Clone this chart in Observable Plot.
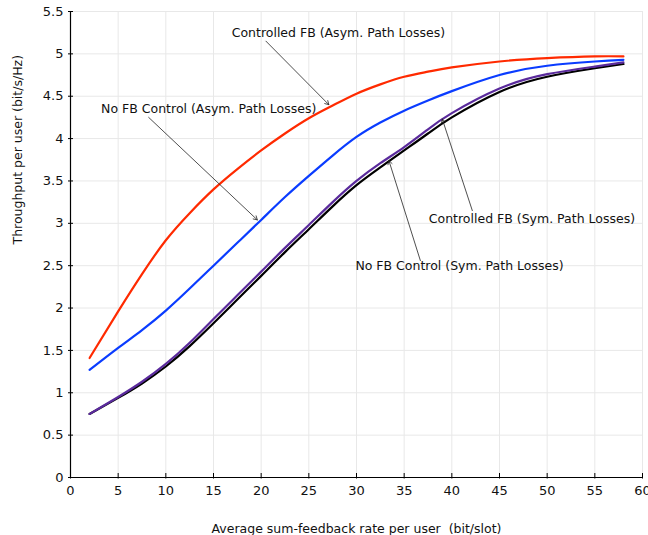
<!DOCTYPE html>
<html>
<head>
<meta charset="utf-8">
<script src="https://cdn.jsdelivr.net/npm/d3@7"></script>
<script src="https://cdn.jsdelivr.net/npm/@observablehq/plot@0.6"></script>
<style>
  html, body { margin: 0; padding: 0; background: #fff; }
  #chart { width: 648px; height: 535px; }
  #chart svg { overflow: visible; }
</style>
</head>
<body>
<div id="chart"></div>
<script>
// Feedback rate (bit/slot)
const xs = [2, 5, 7.5, 10, 12.5, 15, 17.5, 20, 22.5, 25, 27.5, 30, 32.5, 35, 37.5, 40, 45, 50, 55, 58];
// Throughput per user (bit/s/Hz)
const ctrlAsym   = [1.41, 1.96, 2.40, 2.80, 3.12, 3.40, 3.64, 3.86, 4.06, 4.24, 4.39, 4.53, 4.64, 4.73, 4.79, 4.84, 4.91, 4.95, 4.97, 4.97];
const noCtrlAsym = [1.27, 1.53, 1.74, 1.97, 2.23, 2.50, 2.77, 3.04, 3.31, 3.56, 3.80, 4.02, 4.19, 4.33, 4.45, 4.56, 4.75, 4.86, 4.91, 4.93];
const ctrlSym    = [0.75, 0.95, 1.13, 1.34, 1.59, 1.87, 2.15, 2.43, 2.71, 2.98, 3.25, 3.50, 3.71, 3.90, 4.11, 4.30, 4.59, 4.76, 4.85, 4.90];
const noCtrlSym  = [0.75, 0.94, 1.11, 1.31, 1.55, 1.82, 2.10, 2.38, 2.66, 2.93, 3.20, 3.45, 3.66, 3.86, 4.06, 4.25, 4.55, 4.73, 4.83, 4.88];

const xTicks = [0, 5, 10, 15, 20, 25, 30, 35, 40, 45, 50, 55, 60];
const yTicks = [0, 0.5, 1, 1.5, 2, 2.5, 3, 3.5, 4, 4.5, 5, 5.5];
const yTickLabels = ["0", "0.5", "1", "1.5", "2", "2.5", "3", "3.5", "4", "4.5", "5", "5.5"];

// Annotations: label text, label position, arrow tail and tip (data units)
const annLabels = ["Controlled FB (Asym. Path Losses)", "No FB Control (Asym. Path Losses)", "Controlled FB (Sym. Path Losses)", "No FB Control (Sym. Path Losses)"];
const annX  = [28.1, 14.5, 48.4, 40.8];
const annY  = [5.25, 4.35, 3.05, 2.50];
const arrX1 = [20.5, 8.2, 42.15, 36.7];
const arrY1 = [5.15, 4.25, 3.15, 2.56];
const arrX2 = [27.1, 19.6, 39.0, 33.4];
const arrY2 = [4.40, 3.04, 4.23, 3.74];

const xLabel = "Average sum-feedback rate per user  (bit/slot)";
const yLabel = "Throughput per user (bit/s/Hz)";

const series = [
  {name: "noCtrlSym", values: noCtrlSym, color: "#000000"},
  {name: "ctrlSym", values: ctrlSym, color: "#5a2a9c"},
  {name: "noCtrlAsym", values: noCtrlAsym, color: "#0a3cff"},
  {name: "ctrlAsym", values: ctrlAsym, color: "#ff2a00"}
];
const rows = series.flatMap(s => xs.map((x, i) => ({x, y: s.values[i], series: s.name})));
const ann = annLabels.map((t, i) => ({t, x: annX[i], y: annY[i], x1: arrX1[i], y1: arrY1[i], x2: arrX2[i], y2: arrY2[i]}));

const font = "DejaVu Sans, sans-serif";

const chart = Plot.plot({
  width: 648,
  height: 535,
  marginLeft: 70,
  marginRight: 6,
  marginTop: 11,
  marginBottom: 58,
  style: {fontFamily: font, fontSize: "12.5px", color: "#222", background: "#fff", overflow: "visible"},
  x: {domain: [0, 60]},
  y: {domain: [0, 5.5]},
  color: {domain: series.map(s => s.name), range: series.map(s => s.color)},
  marks: [
    Plot.gridX(xTicks, {stroke: "#e8e8e8", strokeOpacity: 1, strokeWidth: 1}),
    Plot.gridY(yTicks, {stroke: "#e8e8e8", strokeOpacity: 1, strokeWidth: 1}),
    Plot.axisX(xTicks, {tickSize: 0, tickPadding: 8, label: null, fontSize: 13, fill: "#111"}),
    Plot.axisY(yTicks, {tickSize: 0, tickPadding: 7, label: null, fontSize: 13, fill: "#111", tickFormat: (d) => yTickLabels[yTicks.indexOf(d)]}),
    Plot.axisX(xTicks, {tickSize: -4, label: null, fill: "none", stroke: "#000"}),
    Plot.axisX(xTicks, {tickSize: 1.5, label: null, fill: "none", stroke: "#000"}),
    Plot.axisY(yTicks, {tickSize: -3, label: null, fill: "none", stroke: "#000"}),
    Plot.axisY(yTicks, {tickSize: 2, label: null, fill: "none", stroke: "#000"}),
    Plot.ruleX([0], {stroke: "#000", strokeWidth: 1.2}),
    Plot.ruleY([0], {stroke: "#000", strokeWidth: 1.2}),
    Plot.line(rows, {x: "x", y: "y", z: "series", stroke: "series", strokeWidth: 2.2, curve: "natural"}),
    Plot.arrow(ann, {x1: "x1", y1: "y1", x2: "x2", y2: "y2", stroke: "#222", strokeWidth: 0.8, headLength: 8, inset: 0}),
    Plot.text(ann, {x: "x", y: "y", text: "t", fontSize: 12.5, fill: "#111", textAnchor: "middle"}),
    Plot.text([xLabel], {frameAnchor: "bottom", dy: 55, fontSize: 12.5, fill: "#111"}),
    Plot.text([yLabel], {frameAnchor: "left", rotate: -90, dx: -53, fontSize: 12.5, fill: "#111"})
  ]
});
document.getElementById("chart").appendChild(chart);
</script>
</body>
</html>
